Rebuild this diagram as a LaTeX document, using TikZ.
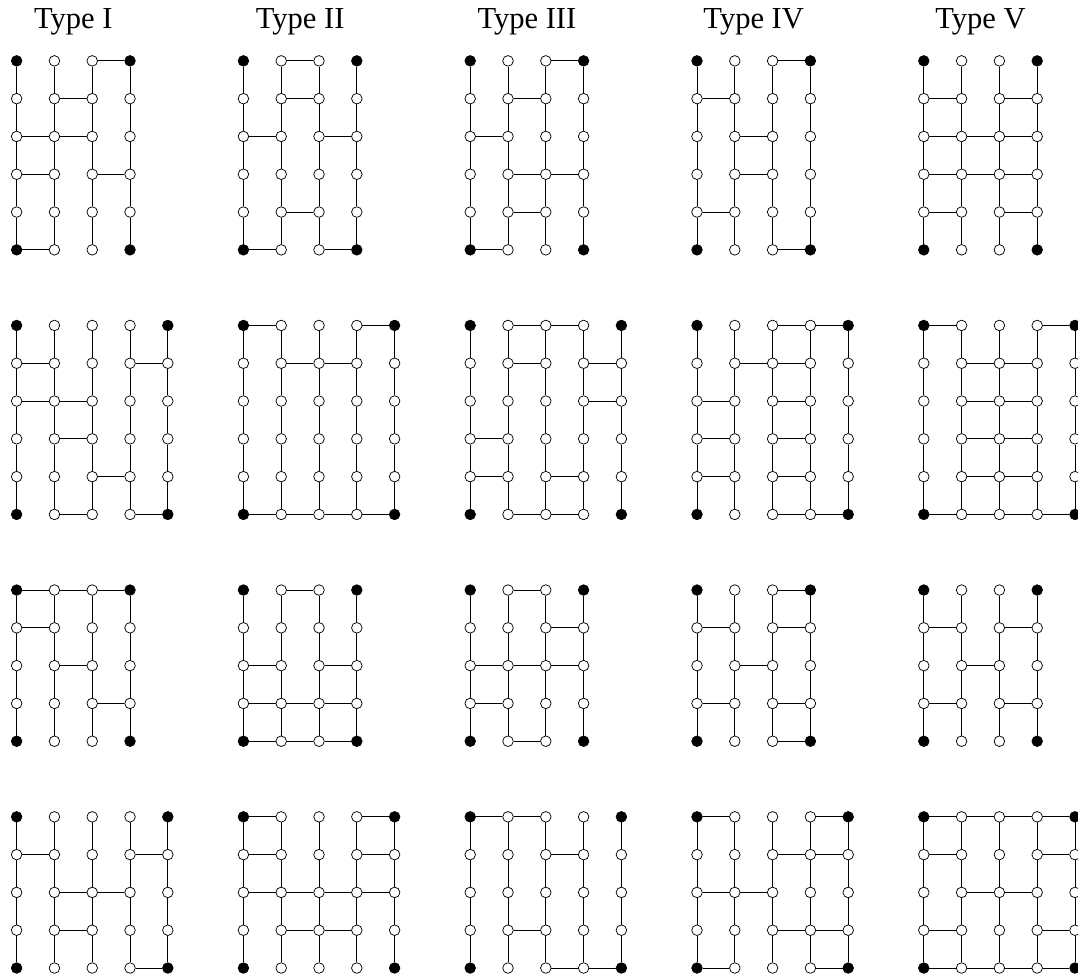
\documentclass[tikz,border=0pt]{standalone}
\usepackage{fontspec}
\setmainfont{Liberation Serif}
\usetikzlibrary{calc}

% one ladder: name, x, y of top-left site, columns, rows, rungs as row/column
\newcommand{\ladder}[6]{%
  \pgfmathtruncatemacro{\lastc}{#4-1}%
  \pgfmathtruncatemacro{\lastr}{#5-1}%
  \foreach \col in {0,...,\lastc}
    \foreach \row in {0,...,\lastr}{%
      \pgfmathtruncatemacro{\corner}{and(or(\col==0,\col==\lastc),or(\row==0,\row==\lastr))}%
      \ifnum\corner=1
        \node[term] (#1-\col-\row) at (#2+\col,#3-\row) {};
      \else
        \node[site] (#1-\col-\row) at (#2+\col,#3-\row) {};
      \fi
    }
  % rails: every column runs top to bottom
  \foreach \col in {0,...,\lastc}{%
    \draw[rail] (#1-\col-0) -- (#1-\col-1);
    \foreach \row in {2,...,\lastr}{%
      \pgfmathtruncatemacro{\prv}{\row-1}%
      \draw[rail] (#1-\col-\prv) -- (#1-\col-\row);
    }%
  }%
  % rungs
  \foreach \row/\col in {#6}{%
    \pgfmathtruncatemacro{\nxt}{\col+1}%
    \draw[rail] (#1-\col-\row) -- (#1-\nxt-\row);
  }%
}

\begin{document}
\begin{tikzpicture}[
  site/.style={circle, draw, fill=white, line width=0.55pt, minimum size=0.28cm, inner sep=0pt},
  term/.style={site, fill=black},
  rail/.style={line width=0.6pt},
  title/.style={font=\fontsize{23}{27}\selectfont, anchor=base, inner sep=0pt},
]
\useasboundingbox (0,0) rectangle (28.52,-25.82);

% ------------------------------------------------------------ titles
\node[title] (typeI)   at (1.94,-0.76)  {Type I};
\node[title] (typeII)  at (7.94,-0.76)  {Type II};
\node[title] (typeIII) at (13.94,-0.76) {Type III};
\node[title] (typeIV)  at (19.94,-0.76) {Type IV};
\node[title] (typeV)   at (25.94,-0.76) {Type V};

% ------------------------------------------------------------ row 1: 4 x 6
\ladder{I1}{0.44}{-1.61}{4}{6}{0/2, 1/1, 2/0, 2/1, 3/0, 3/2, 5/0}
\ladder{II1}{6.44}{-1.61}{4}{6}{0/1, 1/1, 2/0, 2/2, 4/1, 5/0, 5/2}
\ladder{III1}{12.44}{-1.61}{4}{6}{0/2, 1/1, 2/0, 3/1, 3/2, 4/1, 5/0}
\ladder{IV1}{18.44}{-1.61}{4}{6}{0/2, 1/0, 2/1, 3/1, 4/0, 5/2}
\ladder{V1}{24.44}{-1.61}{4}{6}{1/0, 1/2, 2/0, 2/1, 2/2, 3/0, 3/1, 3/2, 4/0, 4/2}

% ------------------------------------------------------------ row 2: 5 x 6
\ladder{I2}{0.44}{-8.61}{5}{6}{1/0, 1/3, 2/0, 2/1, 3/1, 4/2, 5/1, 5/3}
\ladder{II2}{6.44}{-8.61}{5}{6}{0/0, 0/3, 1/1, 1/2, 5/0, 5/1, 5/2, 5/3}
\ladder{III2}{12.44}{-8.61}{5}{6}{0/1, 0/2, 1/1, 1/3, 2/3, 3/0, 4/0, 4/2, 5/1, 5/2}
\ladder{IV2}{18.44}{-8.61}{5}{6}{0/2, 0/3, 1/1, 1/2, 2/0, 2/2, 3/0, 3/2, 4/0, 4/2, 5/2, 5/3}
\ladder{V2}{24.44}{-8.61}{5}{6}{0/0, 0/3, 1/1, 1/2, 2/1, 2/2, 3/1, 3/2, 4/1, 4/2, 5/0, 5/1, 5/2, 5/3}

% ------------------------------------------------------------ row 3: 4 x 5
\ladder{I3}{0.44}{-15.61}{4}{5}{0/0, 0/1, 0/2, 1/0, 2/1, 3/2}
\ladder{II3}{6.44}{-15.61}{4}{5}{0/1, 2/0, 2/2, 3/0, 3/1, 3/2, 4/0, 4/1, 4/2}
\ladder{III3}{12.44}{-15.61}{4}{5}{0/1, 1/2, 2/0, 2/1, 2/2, 3/0, 4/1}
\ladder{IV3}{18.44}{-15.61}{4}{5}{0/2, 1/0, 1/2, 2/1, 3/0, 3/2, 4/2}
\ladder{V3}{24.44}{-15.61}{4}{5}{1/0, 1/2, 2/1, 3/0, 3/2}

% ------------------------------------------------------------ row 4: 5 x 5
\ladder{I4}{0.44}{-21.61}{5}{5}{1/0, 1/3, 2/1, 2/2, 3/1, 4/3}
\ladder{II4}{6.44}{-21.61}{5}{5}{0/0, 0/3, 1/0, 1/3, 2/0, 2/1, 2/2, 2/3, 3/1, 3/2}
\ladder{III4}{12.44}{-21.61}{5}{5}{0/0, 0/1, 1/2, 3/1, 4/2, 4/3}
\ladder{IV4}{18.44}{-21.61}{5}{5}{0/0, 0/3, 1/2, 1/3, 2/0, 2/1, 3/2, 3/3, 4/0, 4/3}
\ladder{V4}{24.44}{-21.61}{5}{5}{0/0, 0/1, 0/2, 0/3, 1/0, 1/3, 2/1, 2/2, 3/0, 3/3, 4/0, 4/1, 4/2, 4/3}
\end{tikzpicture}
\end{document}
